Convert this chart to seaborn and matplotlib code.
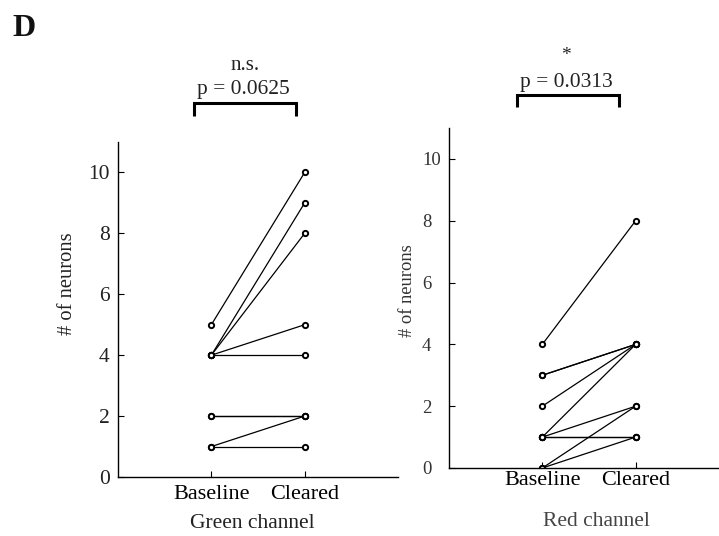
import matplotlib
matplotlib.use("Agg")
import matplotlib.pyplot as plt
from matplotlib.lines import Line2D
import seaborn as sns
import pandas as pd

# ---- data ----
conditions = ["Baseline", "Cleared"]
green_baseline = [5, 4, 4, 4, 4, 2, 2, 1, 1]
green_cleared = [10, 9, 8, 5, 4, 2, 2, 2, 1]
red_baseline = [4, 3, 3, 2, 1, 1, 1, 1, 0, 0]
red_cleared = [8, 4, 4, 4, 4, 2, 1, 1, 2, 1]
yticks = [0, 2, 4, 6, 8, 10]
green_title = "Green channel"
red_title = "Red channel"
green_stat = ["n.s.", "p = 0.0625"]
red_stat = ["*", "p = 0.0313"]
panel_letter = "D"

sns.set_theme(style="ticks")
plt.rcParams["font.family"] = ["Liberation Serif", "DejaVu Serif"]


def to_long(base, clr):
    rows = []
    for i, (b, c) in enumerate(zip(base, clr)):
        rows.append({"pair": i, "x": 1, "value": b})
        rows.append({"pair": i, "x": 2, "value": c})
    return pd.DataFrame(rows)


W, H = 719, 536
fig = plt.figure(figsize=(W / 100, H / 100), dpi=100)
fig.patch.set_facecolor("white")


def fx(px):
    return px / W


def fy(py):
    return 1 - py / H


ax1 = fig.add_axes([fx(118), fy(477), fx(280), (477 - 142) / H])
ax2 = fig.add_axes([fx(449), fy(468), fx(280), (468 - 128) / H])


def draw(ax, base, clr, xt_fs):
    df = to_long(base, clr)
    sns.lineplot(data=df, x="x", y="value", units="pair", estimator=None,
                 color="black", linewidth=0.9, marker="o", markersize=3.8,
                 markerfacecolor="white", markeredgecolor="black",
                 markeredgewidth=1.4, ax=ax, legend=False)
    ax.set_xlim(0, 3)
    ax.set_ylim(0, 11)
    ax.set_yticks(yticks)
    ax.set_xticks([1, 2])
    ax.set_xticklabels(conditions, fontsize=xt_fs, color="#222222")
    ax.set_xlabel("")
    ax.set_ylabel("")
    ax.tick_params(direction="in", length=4, width=0.8, colors="black")
    for s in ["top", "right"]:
        ax.spines[s].set_visible(False)
    for s in ["left", "bottom"]:
        ax.spines[s].set_linewidth(1.0)
        ax.spines[s].set_color("black")
    ax.set_facecolor("white")


draw(ax1, green_baseline, green_cleared, 16)
ax1.tick_params(axis="y", labelsize=15.5, pad=6, labelcolor="#222222")
ax1.tick_params(axis="x", pad=6)

draw(ax2, red_baseline, red_cleared, 16)
ax2.tick_params(axis="y", labelsize=13.5, pad=19.5, labelcolor="#333333")
ax2.tick_params(axis="x", pad=2)
for lab in ax2.get_yticklabels():
    lab.set_horizontalalignment("left")

# y labels
fig.text(fx(68), fy(284), "# of neurons", rotation=90, ha="center",
         va="center", fontsize=14.8, color="#222222")
fig.text(fx(407), fy(291), "# of neurons", rotation=90, ha="center",
         va="center", fontsize=13.3, color="#333333")

# channel titles
fig.text(fx(252), fy(523), green_title, ha="center", va="center",
         fontsize=15.5, color="#222222")
fig.text(fx(596), fy(522), red_title, ha="center", va="center", fontsize=15.5,
         color="#444444")

# stats brackets
def bracket(x0, x1, y, ydrop):
    fig.add_artist(Line2D([fx(x0), fx(x0), fx(x1), fx(x1)],
                          [fy(y + ydrop), fy(y), fy(y), fy(y + ydrop)],
                          color="black", linewidth=2.2,
                          solid_joinstyle="miter", solid_capstyle="butt"))

bracket(194, 296, 103, 13)
fig.text(fx(245), fy(65), green_stat[0], ha="center", va="center",
         fontsize=15, color="#222222")
fig.text(fx(243), fy(89), green_stat[1], ha="center", va="center",
         fontsize=15.5, color="#222222")

bracket(517, 619, 95, 12)
fig.text(fx(566), fy(56), red_stat[0], ha="center", va="center",
         fontsize=14, color="#222222")
fig.text(fx(566), fy(83), red_stat[1], ha="center", va="center",
         fontsize=15.5, color="#222222")

fig.text(fx(12), fy(29), panel_letter, ha="left", va="center", fontsize=23,
         fontweight="bold", color="#111111")

fig.savefig("out.png", dpi=100, facecolor="white")
